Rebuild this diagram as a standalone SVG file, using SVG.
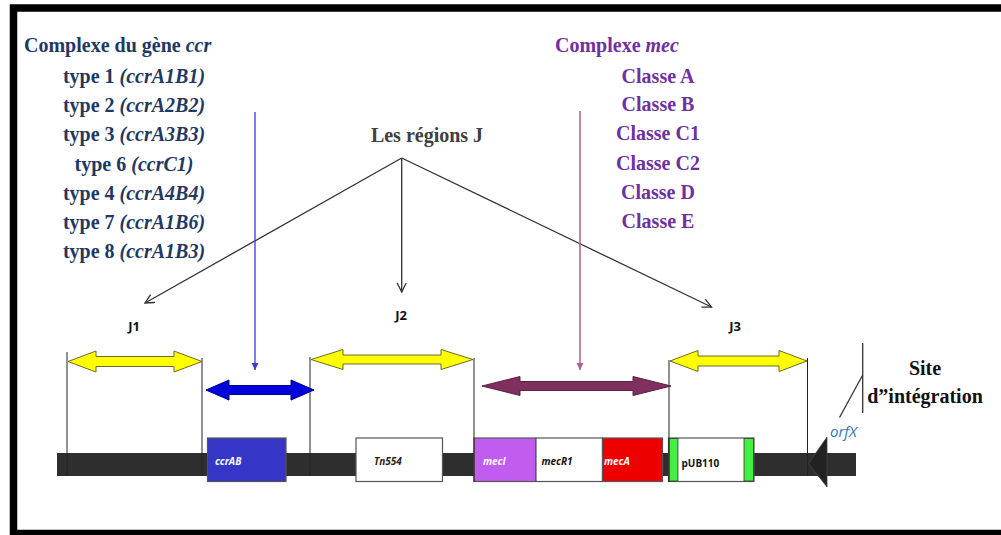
<svg xmlns="http://www.w3.org/2000/svg" width="1001" height="535" viewBox="0 0 1001 535">
<style>
.ser{font-family:"Liberation Serif","Times New Roman",serif;font-weight:bold;font-size:20px}
.navy{fill:#1f3864}
.purp{fill:#7030a0}
.it{font-style:italic}
.jl{font-family:"Open Sans","Liberation Sans",sans-serif;font-weight:bold;font-size:13px;fill:#111}
.gl{font-family:"Open Sans","Liberation Sans",sans-serif;font-weight:bold;font-style:italic;font-size:10px}
.bnd{stroke:#222;stroke-width:1;fill:none}
.yel{fill:#ffff00;stroke:#6b6b2a;stroke-width:1}
.box{stroke:#555;stroke-width:1.2}
.jline{stroke:#333;stroke-width:1.3;fill:none}
</style>
<defs>
<marker id="vhead" markerUnits="userSpaceOnUse" markerWidth="12" markerHeight="12" refX="10" refY="5" orient="auto" viewBox="0 0 12 12">
<path d="M1,0.5 L10,5 L1,9.5" fill="none" stroke="#333" stroke-width="1.3"/>
</marker>
<marker id="bhead" markerUnits="userSpaceOnUse" markerWidth="8" markerHeight="8" refX="7" refY="3.5" orient="auto" viewBox="0 0 8 8">
<path d="M0,0 L7,3.5 L0,7 Z" fill="#3b3bd0"/>
</marker>
<marker id="mhead" markerUnits="userSpaceOnUse" markerWidth="8" markerHeight="8" refX="7" refY="3.5" orient="auto" viewBox="0 0 8 8">
<path d="M0,0 L7,3.5 L0,7 Z" fill="#b0608f"/>
</marker>
</defs>
<rect width="1001" height="535" fill="#ffffff"/>
<path d="M1001,8 H13.5 V533.5 H1001" fill="none" stroke="#000" stroke-width="7.5"/>

<g id="ccr-complex">
<text class="ser navy" x="24" y="52">Complexe du gène <tspan class="it">ccr</tspan></text>
<g class="ser navy" text-anchor="middle">
<text x="134" y="83">type 1 <tspan class="it">(ccrA1B1)</tspan></text>
<text x="134" y="112">type 2 <tspan class="it">(ccrA2B2)</tspan></text>
<text x="134" y="141">type 3 <tspan class="it">(ccrA3B3)</tspan></text>
<text x="134" y="170.5">type 6 <tspan class="it">(ccrC1)</tspan></text>
<text x="134" y="200">type 4 <tspan class="it">(ccrA4B4)</tspan></text>
<text x="134" y="229">type 7 <tspan class="it">(ccrA1B6)</tspan></text>
<text x="134" y="258">type 8 <tspan class="it">(ccrA1B3)</tspan></text>
</g>
</g>

<g id="mec-complex">
<text class="ser purp" x="555" y="52">Complexe <tspan class="it">mec</tspan></text>
<g class="ser purp" text-anchor="middle">
<text x="658" y="83">Classe A</text>
<text x="658" y="111">Classe B</text>
<text x="658" y="140">Classe C1</text>
<text x="658" y="170">Classe C2</text>
<text x="658" y="199">Classe D</text>
<text x="658" y="228">Classe E</text>
</g>
</g>

<g id="regions-j">
<text class="ser" x="427" y="142" text-anchor="middle" fill="#404040">Les régions J</text>
</g>

<g id="connectors">
<line class="jline" x1="401.7" y1="158" x2="145" y2="303" marker-end="url(#vhead)"/>
<line class="jline" x1="401.7" y1="158" x2="401.7" y2="292" marker-end="url(#vhead)"/>
<line class="jline" x1="401.7" y1="158" x2="711.5" y2="307" marker-end="url(#vhead)"/>
<line x1="255" y1="112" x2="255" y2="370" stroke="#3b3bd0" stroke-width="1.3" marker-end="url(#bhead)"/>
<line x1="580" y1="111" x2="580" y2="370" stroke="#b0608f" stroke-width="1.5" marker-end="url(#mhead)"/>
</g>

<g id="chromosome">
<rect x="57" y="453" width="799" height="23" fill="#2e2e2e"/>
</g>

<g id="j-labels">
<text class="jl" x="134" y="331" text-anchor="middle">J1</text>
<text class="jl" x="401" y="320" text-anchor="middle">J2</text>
<text class="jl" x="735" y="331" text-anchor="middle">J3</text>
</g>

<g id="gene-ccrAB">
<rect class="box" x="207.5" y="438" width="78.5" height="43.5" fill="#3535c8"/>
<text class="gl" x="215" y="465" fill="#ffffff">ccrAB</text>
</g>
<g id="gene-Tn554">
<rect class="box" x="356" y="438" width="86.5" height="43.5" fill="#ffffff"/>
<text class="gl" x="374" y="465" fill="#222">Tn554</text>
</g>
<g id="gene-mecI">
<rect class="box" x="474" y="438" width="62" height="43.5" fill="#c15cf0"/>
<text class="gl" x="483" y="465" fill="#ffffff">mecI</text>
</g>
<g id="gene-mecR1">
<rect class="box" x="536" y="438" width="66.5" height="43.5" fill="#ffffff"/>
<text class="gl" x="541.5" y="465" fill="#111">mecR1</text>
</g>
<g id="gene-mecA">
<rect class="box" x="602.5" y="438" width="60" height="43.5" fill="#ee0000"/>
<text class="gl" x="604" y="465" fill="#ffffff">mecA</text>
</g>
<g id="gene-pUB110">
<rect class="box" x="668.5" y="438" width="85.5" height="43.5" fill="#ffffff"/>
<rect x="669" y="438.5" width="9" height="42.5" fill="#44ee44" stroke="#333" stroke-width="0.8"/>
<rect x="744" y="438.5" width="9.5" height="42.5" fill="#44ee44" stroke="#333" stroke-width="0.8"/>
<text x="681.5" y="466.5" font-family="'Open Sans','Liberation Sans',sans-serif" font-weight="bold" font-size="10" fill="#111">pUB110</text>
</g>

<g id="boundaries">
<line class="bnd" x1="67" y1="352" x2="67" y2="476"/>
<line class="bnd" x1="202" y1="358" x2="202" y2="476"/>
<line class="bnd" x1="310" y1="357" x2="310" y2="476"/>
<line class="bnd" x1="474" y1="358" x2="474" y2="482"/>
<line class="bnd" x1="669" y1="360" x2="669" y2="482"/>
<line class="bnd" x1="807.5" y1="358" x2="807.5" y2="476"/>
</g>

<g id="arrow-J1">
<path class="yel" d="M68,361.5 L96,351 L96,356.5 L174,356.5 L174,351 L202,361.5 L174,372 L174,366.5 L96,366.5 L96,372 Z"/>
</g>
<g id="arrow-J2">
<path class="yel" d="M311,359.5 L343,349.5 L343,355 L441,355 L441,349.5 L473,359.5 L441,369.5 L441,364 L343,364 L343,369.5 Z"/>
</g>
<g id="arrow-J3">
<path class="yel" d="M670,361 L698,350.5 L698,356 L779,356 L779,350.5 L807,361 L779,371.5 L779,366 L698,366 L698,371.5 Z"/>
</g>
<g id="arrow-ccr">
<path d="M206,390 L229,380 L229,385.5 L291,385.5 L291,380 L314,390 L291,400 L291,394.5 L229,394.5 L229,400 Z" fill="#0000dd" stroke="#00008a" stroke-width="1"/>
</g>
<g id="arrow-mec">
<path d="M482,386 L520,376.5 L520,381.5 L633,381.5 L633,376.5 L671,386 L633,395.5 L633,390.5 L520,390.5 L520,395.5 Z" fill="#80305f" stroke="#5a2042" stroke-width="1"/>
</g>

<g id="integration-site">
<path d="M808.5,463.5 L827,437 L827,487 Z" fill="#222" stroke="#444" stroke-width="0.8"/>
<line x1="862.7" y1="343" x2="862.7" y2="413" stroke="#333" stroke-width="1.3"/>
<line x1="839.5" y1="417.5" x2="862.7" y2="375" stroke="#333" stroke-width="1.3"/>
<text x="830" y="437" font-family="'Open Sans','Liberation Sans',sans-serif" font-style="italic" font-size="15" fill="#2e75b6">orfX</text>
<text class="ser" x="925" y="375" text-anchor="middle" fill="#111">Site</text>
<text class="ser" x="925" y="403" text-anchor="middle" fill="#111">d”intégration</text>
</g>
</svg>
